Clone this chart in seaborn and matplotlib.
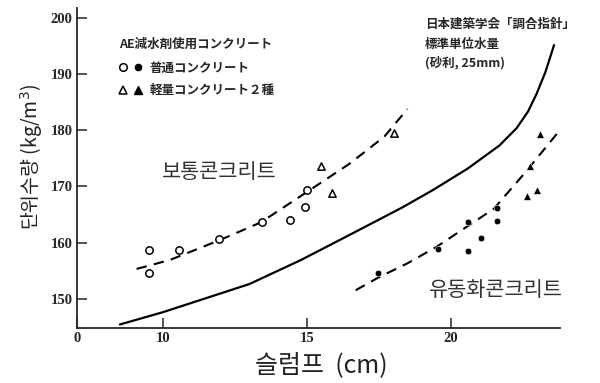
import matplotlib
matplotlib.use("Agg")
import matplotlib.pyplot as plt
import seaborn as sns
from matplotlib.lines import Line2D
from matplotlib.legend_handler import HandlerTuple

# 보통콘크리트 (AE減水剤, 普通コンクリート) 측정점
normal_x = [9.52, 9.52, 10.56, 11.96, 13.45, 14.40, 14.95, 15.0]
normal_y = [158.6, 154.6, 158.7, 160.7, 163.6, 164.1, 166.4, 169.4]
# 경량콘크리트 2종 (보통)
light_x = [15.48, 15.87, 18.02]
light_y = [173.6, 168.8, 179.6]
# 유동화콘크리트 측정점
fluid_x = [17.46, 19.55, 20.61, 20.61, 21.05, 21.6, 21.6]
fluid_y = [154.6, 158.8, 163.6, 158.5, 160.8, 166.1, 163.9]
fluid_light_x = [22.75, 22.67, 22.99, 23.10]
fluid_light_y = [173.6, 168.3, 169.4, 179.4]

# 경향선 (그림에서 읽은 점)
upper_x = [9.08, 10.24, 12.0, 13.4, 15.0, 16.5, 17.7, 18.5]
upper_y = [155.3, 156.9, 160.5, 163.6, 169.0, 174.1, 178.9, 183.8]
lower_x = [16.7, 17.5, 18.5, 19.5, 20.5, 21.5, 22.6, 23.7]
lower_y = [151.5, 153.8, 156.3, 159.2, 162.6, 166.0, 172.5, 179.4]
# 日本建築学会「調合指針」標準単位水量
std_x = [8.5, 10.0, 11.5, 13.0, 14.8, 16.5, 18.3, 19.4, 20.6, 21.7, 22.3, 22.7, 23.0, 23.3, 23.6]
std_y = [145.4, 147.6, 150.1, 152.6, 156.9, 161.4, 166.2, 169.4, 173.2, 177.3, 180.4, 183.4, 186.6, 190.4, 195.2]

xticks = [7, 10, 15, 20]
xtick_labels = ["0", "10", "15", "20"]
yticks = [150, 160, 170, 180, 190, 200]

sns.set_style("ticks")
plt.rcParams['font.family'] = ['Noto Sans CJK KR', 'DejaVu Sans']

fig = plt.figure(figsize=(6, 3.83), dpi=100)
ax = fig.add_axes([0.128, 0.144, 0.805, 0.835])

sns.lineplot(x=std_x, y=std_y, ax=ax, color="black", linewidth=1.6, sort=False, estimator=None)
sns.lineplot(x=upper_x, y=upper_y, ax=ax, color="black", linewidth=1.5, sort=False,
             estimator=None, linestyle=(0, (5, 3.5)))
sns.lineplot(x=lower_x, y=lower_y, ax=ax, color="black", linewidth=1.5, sort=False,
             estimator=None, linestyle=(0, (5, 3.5)))

sns.scatterplot(x=normal_x, y=normal_y, ax=ax, marker="o", s=28, facecolor="white",
                edgecolor="black", linewidth=1.1, zorder=3)
sns.scatterplot(x=light_x, y=light_y, ax=ax, marker="^", s=28, facecolor="white",
                edgecolor="black", linewidth=1.1, zorder=3)
sns.scatterplot(x=fluid_x, y=fluid_y, ax=ax, marker="o", s=22, color="black", zorder=3)
sns.scatterplot(x=fluid_light_x, y=fluid_light_y, ax=ax, marker="^", s=32, color="black", zorder=3)

ax.set_xlim(7, 23.8)
ax.set_ylim(144.8, 201.8)
ax.set_xticks(xticks)
ax.set_xticklabels(xtick_labels)
ax.set_yticks(yticks)
sns.despine(ax=ax)
for sp in ["left", "bottom"]:
    ax.spines[sp].set_linewidth(1.3)
ax.tick_params(direction="in", length=7, width=1.1, pad=3, labelsize=10.5)
for lab in ax.get_xticklabels() + ax.get_yticklabels():
    lab.set_family("Liberation Serif")
    lab.set_weight("bold")

ax.set_ylabel("단위수량 (kg/m$^3$)", fontsize=14, color="#222222")
ax.set_xlabel("슬럼프  (cm)", fontsize=18, color="#222222")
ax.yaxis.set_label_coords(-0.065, 0.534)
ax.xaxis.set_label_coords(0.507, -0.075)

# 범례
h_normal = (Line2D([], [], marker="o", ls="", mfc="white", mec="black", ms=5.5, mew=1.1),
            Line2D([], [], marker="o", ls="", color="black", ms=4.5))
h_light = (Line2D([], [], marker="^", ls="", mfc="white", mec="black", ms=5.5, mew=1.1),
           Line2D([], [], marker="^", ls="", color="black", ms=5.5))
jp = ["Noto Sans CJK JP", "DejaVu Sans"]
leg = ax.legend([h_normal, h_light], ["普通コンクリート", "軽量コンクリート２種"],
                handler_map={tuple: HandlerTuple(ndivide=None, pad=0.6)},
                title="AE減水剤使用コンクリート", alignment="left",
                loc="upper left", bbox_to_anchor=(0.07, 0.935), frameon=False,
                handlelength=1.8, handletextpad=0.6, labelspacing=0.75, borderpad=0.2,
                prop={"family": jp, "size": 9, "weight": "bold"})
leg.get_title().set_fontproperties({"family": jp, "size": 9, "weight": "bold"})
leg._legend_box.sep = 8

fig.text(425 / 600, 1 - 24 / 383, "日本建築学会「調合指針」", family=jp, fontsize=9,
         weight="bold", va="center", ha="left")
fig.text(425 / 600, 1 - 44 / 383, "標準単位水量", family=jp, fontsize=9,
         weight="bold", va="center", ha="left")
fig.text(425 / 600, 1 - 63 / 383, "(砂利, 25mm)", family=jp, fontsize=9,
         weight="bold", va="center", ha="left")

fig.text(219 / 600, 1 - 172 / 383, "보통콘크리트", fontsize=15, color="#333333",
         va="center", ha="center")
fig.text(496 / 600, 1 - 290 / 383, "유동화콘크리트", fontsize=15, color="#333333",
         va="center", ha="center")

fig.savefig("out.png", dpi=100)
